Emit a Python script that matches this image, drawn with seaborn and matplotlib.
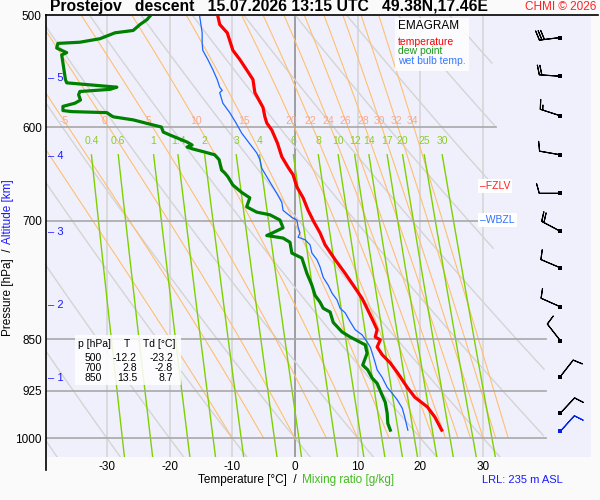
import numpy as np
import matplotlib
matplotlib.use("Agg")
import matplotlib.pyplot as plt
from matplotlib.lines import Line2D
from matplotlib.ticker import NullLocator
import seaborn as sns

# sounding: pressure [hPa] and temperature [degC]
temp_p = [500, 507, 514, 529, 537, 548, 555, 567, 581, 590, 596, 603, 616, 630,
          641, 649, 662, 674, 688, 701, 714, 728, 746, 763, 778, 795, 810, 824,
          837, 847, 851, 861, 872, 884, 899, 920, 935, 950, 966, 987]
temp_t = [-12.3, -12.0, -10.8, -9.9, -8.8, -7.5, -6.7, -6.4, -5.1, -4.8, -4.5, -3.7,
          -2.8, -2.1, -1.1, -0.3, 0.3, 1.3, 2.1, 3.0, 4.0, 4.8, 6.4, 8.0, 9.3, 10.7,
          11.6, 12.4, 13.1, 12.8, 13.6, 13.1, 13.9, 15.2, 16.4, 17.9, 19.1, 21.1,
          22.3, 23.4]

dew_p = [500, 503, 507, 512, 514, 519, 522, 523, 527, 531, 533, 540, 555, 558,
         562, 564, 566, 569, 574, 577, 580, 584, 585, 586, 590, 593, 598, 600,
         605, 608, 615, 618, 620, 622, 625, 628, 633, 644, 647, 651, 660, 668,
         674, 684, 690, 693, 699, 708, 714, 717, 720, 725, 738, 744, 763, 778,
         791, 800, 808, 813, 827, 840, 847, 858, 870, 887, 894, 906, 914, 932,
         943, 960, 976, 987]
dew_t = [-23.1, -23.6, -24.7, -25.8, -28.7, -31.1, -34.3, -37.8, -38.0, -36.4, -37.2,
         -37.0, -36.6, -36.4, -28.4, -29.5, -34.3, -34.5, -34.2, -35.1, -37.0, -37.0,
         -35.6, -30.0, -29.0, -25.8, -22.6, -21.3, -21.0, -19.9, -17.2, -16.4, -17.2,
         -16.3, -14.5, -12.8, -12.1, -11.7, -11.2, -10.7, -9.9, -8.5, -7.2, -7.7,
         -6.1, -4.0, -2.4, -1.9, -3.6, -4.5, -1.9, -0.8, -0.5, 1.1, 1.9, 2.7, 3.2,
         4.0, 4.5, 5.6, 6.1, 7.5, 8.8, 11.2, 11.5, 10.8, 11.6, 12.3, 13.1, 13.9,
         14.4, 14.7, 14.8, 15.2]

wet_p = [500, 507, 514, 523, 529, 537, 546, 555, 562, 565, 567, 577, 586, 596,
         606, 616, 626, 633, 642, 651, 660, 669, 679, 688, 696, 699, 707, 714,
         719, 722, 728, 738, 746, 755, 768, 778, 788, 797, 808, 814, 826, 837,
         844, 854, 861, 872, 884, 894, 905, 920, 929, 939, 952, 966, 987]
wet_t = [-15.2, -15.0, -14.8, -14.8, -14.7, -13.9, -13.1, -12.4, -12.0, -11.6, -12.0,
         -11.5, -10.4, -9.4, -8.5, -7.3, -6.1, -5.6, -5.3, -4.5, -3.7, -2.9, -2.1,
         -1.9, -0.5, 0.3, 0.5, 0.8, 0.5, 1.6, 2.4, 2.7, 3.5, 4.0, 4.5, 5.3, 5.9,
         6.7, 7.2, 8.0, 8.8, 9.6, 10.7, 11.5, 12.0, 12.4, 12.8, 13.1, 13.9, 14.7,
         15.5, 16.3, 17.1, 17.5, 18.0]

# wind barbs: pressure, direction [deg], speed [kt]
wind_p = [518, 552, 589, 628, 669, 712, 756, 806, 852, 904, 960, 989]
wind_dir = [263, 274, 288, 280, 270, 298, 293, 294, 322, 38, 43, 42]
wind_kt = [30, 20, 15, 10, 10, 20, 10, 10, 10, 10, 10, 10]

alt_km = [1, 2, 3, 4, 5]
alt_p = [906, 804, 713, 629, 554]

fzlv_p = 661
wbzl_p = 699

table_p = [500, 700, 850]
table_t = [-12.2, 2.8, 13.5]
table_td = [-23.2, -2.8, 8.7]

p_ticks = [500, 600, 700, 850, 925, 1000]
t_ticks = [-30, -20, -10, 0, 10, 20, 30]
mix_ratios = [0.4, 0.6, 1, 1.4, 2, 3, 4, 6, 8, 10, 12, 14, 17, 20, 25, 30]
theta_w = [-10, -5, 0, 5, 10, 15, 20, 22, 24, 26, 28, 30, 32, 34]
theta_dry = list(range(-40, 130, 10))

plt.rcParams['font.family'] = ['Liberation Sans', 'DejaVu Sans']

LAV = '#f0f0fc'
ORANGE = '#ffbf70'
LIME = '#7fd000'
LIME_TXT = '#8ccc2a'
SALMON = '#f8a88c'


def fx(px):
    return px / 600


def fy(py):
    return 1 - py / 500


def es(t):
    return 6.112 * np.exp(17.67 * t / (t + 243.5))


def td_from_w(w, p):
    e = w * p / (622.0 + w)
    a = np.log(e / 6.112)
    return 243.5 * a / (17.67 - a)


def moist_line(tw, pp):
    Rd, cp, Lv, eps = 287.04, 1005.7, 2.501e6, 0.622

    def dtdp(p, T):
        e = es(T - 273.15)
        rs = eps * e / (p - e)
        return (Rd * T + Lv * rs) / (p * (cp + Lv * Lv * rs * eps / (Rd * T * T)))

    out = [tw + 273.15]
    for i in range(1, len(pp)):
        dp = pp[i] - pp[i - 1]
        T = out[-1]
        k1 = dtdp(pp[i - 1], T)
        k2 = dtdp(pp[i - 1] + dp / 2, T + k1 * dp / 2)
        out.append(T + k2 * dp)
    return np.array(out) - 273.15


def clip_right(t, p):
    lim = np.where(p < 820, 32.0, 40.0)
    t = np.array(t, dtype=float)
    t[t > lim] = np.nan
    return t


fig = plt.figure(figsize=(6, 5), dpi=100, facecolor='#fafafa')
ax = fig.add_axes([fx(46), fy(457), 545 / 600, 441 / 500])
ax.set_facecolor(LAV)
ax.set_yscale('log')
ax.set_ylim(1031.5, 500)
ax.set_xlim(-39.7, 47.2)
for s in ax.spines.values():
    s.set_visible(False)

# isotherms
for t in t_ticks:
    ax.axvline(t, color='#909090' if t == 0 else '#d6d6d6', lw=1.2, zorder=1)

# dry adiabats
pp = np.linspace(500, 1031.5, 120)
for th in theta_dry:
    t = (th + 273.15) * (pp / 1000.0) ** 0.2857 - 273.15
    ax.plot(clip_right(t, pp), pp, color='#d4d4d4', lw=1.0, zorder=2)

# saturated adiabats
pm = np.linspace(1000, 500, 251)
for tw in theta_w:
    t = moist_line(tw, pm)
    ax.plot(clip_right(t, pm), pm, color=ORANGE, lw=0.8, zorder=2)
    tl = np.interp(594, pm[::-1], t[::-1])
    if -39 < tl < 31:
        ax.text(tl, 594, f"{tw:g}", color=SALMON, fontsize=7.5, ha='center',
                va='center', zorder=4)

# mixing ratio lines
pw = np.linspace(628, 1031.5, 60)
for w in mix_ratios:
    t = td_from_w(w, pw)
    ax.plot(clip_right(t, pw), pw, color=LIME, lw=1.0, zorder=2)
    ax.text(td_from_w(w, 628), 614, f"{w:g}", color=LIME_TXT, fontsize=7.5,
            ha='center', va='center', zorder=4)

# isobars
for p in p_ticks[1:]:
    right = 32 if p < 820 else 40
    ax.plot([-39.7, right], [p, p], color='#a8a8a8', lw=1.2, zorder=3)

# profiles
sns.lineplot(x=dew_t, y=dew_p, sort=False, estimator=None, color='#008000',
             lw=2.3, ax=ax, zorder=6)
sns.lineplot(x=wet_t, y=wet_p, sort=False, estimator=None, color='#1a66ff',
             lw=0.9, ax=ax, zorder=6)
sns.lineplot(x=temp_t, y=temp_p, sort=False, estimator=None, color='#ff0000',
             lw=2.3, ax=ax, zorder=7)

# wind barbs
wd = np.radians(wind_dir)
u = -np.array(wind_kt) * np.sin(wd)
v = -np.array(wind_kt) * np.cos(wd)
bx = np.full(len(wind_p), 42.3)
cols = ['black'] * (len(wind_p) - 1) + ['#0022ee']
ax.barbs(bx, wind_p, u, v, length=5.5, pivot='tip', color=cols, lw=0.8,
         sizes=dict(spacing=0.12, height=0.45), zorder=8)
ax.scatter(bx, wind_p, marker='s', s=8, c=cols, zorder=9, linewidths=0)

ax.set_yticks(p_ticks)
ax.set_yticklabels([str(p) for p in p_ticks], fontsize=8.5)
ax.yaxis.set_minor_locator(NullLocator())
ax.set_xticks(t_ticks)
ax.set_xticklabels([str(t) for t in t_ticks], fontsize=8.5)
ax.tick_params(length=0, pad=3)
ax.set_xlabel('')
ax.set_ylabel('')

# altitude marks
for km, p in zip(alt_km, alt_p):
    ax.text(-39.4, p, f"\u2013 {km}", color='#1a1aff', fontsize=8, ha='left',
            va='center', zorder=5)

# freezing levels
ax.text(29.5, fzlv_p, "\u2013FZLV", color='#ff2020', fontsize=7.5, ha='left',
        va='center', zorder=9,
        bbox=dict(facecolor='white', edgecolor='none', pad=1.5))
ax.text(29.5, wbzl_p, "\u2013WBZL", color='#3070ff', fontsize=7.5, ha='left',
        va='center', zorder=9,
        bbox=dict(facecolor='white', edgecolor='none', pad=1.5))

# legend box
fig.patches.append(plt.Rectangle((fx(395), fy(71)), 74 / 600, 53 / 500,
                                 transform=fig.transFigure, facecolor='white',
                                 edgecolor='none', alpha=0.85, zorder=10))
fig.text(fx(398), fy(26), "EMAGRAM", fontsize=8.5, color='black', va='center', zorder=11)
fig.text(fx(398), fy(42), "temperature", fontsize=7.5, color='#ff0000', va='center', zorder=11)
fig.text(fx(398), fy(51), "dew point", fontsize=7.5, color='#1a9a1a', va='center', zorder=11)
fig.text(fx(398), fy(61), "wet bulb temp.", fontsize=7.5, color='#3377ff', va='center', zorder=11)

# data table
fig.patches.append(plt.Rectangle((fx(75), fy(385)), 106 / 600, 50 / 500,
                                 transform=fig.transFigure, facecolor='white',
                                 edgecolor='none', alpha=0.85, zorder=10))
fig.text(fx(78), fy(344), "p [hPa]", fontsize=7.5, va='center', zorder=11)
fig.text(fx(127), fy(344), "T", fontsize=7.5, va='center', ha='center', zorder=11)
fig.text(fx(143), fy(344), "Td [\u00b0C]", fontsize=7.5, va='center', zorder=11)
for i, (p, t, td) in enumerate(zip(table_p, table_t, table_td)):
    yy = fy(358 + 10 * i)
    fig.text(fx(102), yy, f"{p}", fontsize=7.5, ha='right', va='center', zorder=11)
    fig.text(fx(137), yy, f"{t:.1f}", fontsize=7.5, ha='right', va='center', zorder=11)
    fig.text(fx(173), yy, f"{td:.1f}", fontsize=7.5, ha='right', va='center', zorder=11)

# frame lines
fig.add_artist(Line2D([fx(46), fx(46)], [fy(15), fy(470)], color='black', lw=1.2))
fig.add_artist(Line2D([fx(46), fx(598)], [fy(15), fy(15)], color='black', lw=1.2))

# titles and labels
fig.text(fx(50), fy(7), "Prostejov   descent   15.07.2026 13:15 UTC   49.38N,17.46E",
         fontsize=11.3, fontweight='bold', va='center')
fig.text(fx(596), fy(7), "CHMI \u00a9 2026", fontsize=8.5, color='#ff2020',
         ha='right', va='center')
fig.text(fx(297), fy(480), "Temperature [\u00b0C]  /", fontsize=8.5, ha='right', va='center')
fig.text(fx(302), fy(480), "Mixing ratio [g/kg]", fontsize=8.5, color='#44bb22',
         ha='left', va='center')
fig.text(fx(8), fy(248), "Pressure [hPa]  /", fontsize=8.5, rotation=90,
         ha='center', va='top')
fig.text(fx(8), fy(244), "Altitude [km]", fontsize=8.5, color='#1a1aff', rotation=90,
         ha='center', va='bottom')
fig.text(fx(482), fy(480), "LRL: 235 m ASL", fontsize=8, color='#1a1aff', va='center')

fig.savefig("out.png", dpi=100, facecolor=fig.get_facecolor())
